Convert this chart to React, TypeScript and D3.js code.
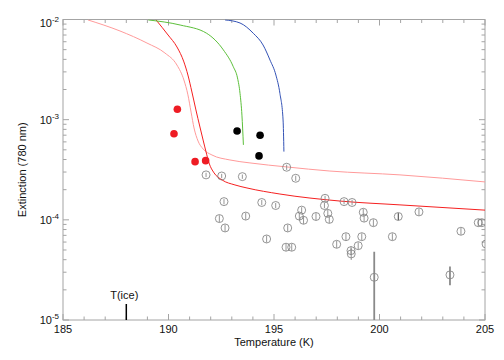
import React from "react";
import * as d3 from "d3";

// ---- data ----
const xTickValues = [185, 190, 195, 200, 205];
const yTickExponents = [-2, -3, -4, -5];

// model curves (temperature K, extinction)
const pinkT = [186.18, 187.7, 188.98, 189.83, 190.4, 190.73, 190.92, 191.07, 191.21, 191.4, 191.64, 192.06, 192.91, 193.86, 195.62, 197.65, 200.97, 205];
const pinkE = [9.9e-3, 7.68e-3, 5.82e-3, 4.63e-3, 3.51e-3, 2.49e-3, 1.77e-3, 1.19e-3, 8.26e-4, 6.12e-4, 5.1e-4, 4.44e-4, 3.96e-4, 3.7e-4, 3.37e-4, 3.07e-4, 2.81e-4, 2.39e-4];

const redT = [189.41, 189.98, 190.4, 190.73, 190.92, 191.11, 191.3, 191.49, 191.64, 191.78, 191.92, 192.16, 192.54, 193.15, 193.72, 195.28, 198.13, 200.97, 205];
const redE = [9.9e-3, 7.0e-3, 5.32e-3, 3.77e-3, 2.79e-3, 1.89e-3, 1.25e-3, 8.45e-4, 6.26e-4, 4.76e-4, 3.7e-4, 2.94e-4, 2.5e-4, 2.23e-4, 2.08e-4, 1.81e-4, 1.54e-4, 1.41e-4, 1.25e-4];

const greenT = [189.04, 190.55, 191.81, 192.6, 193.07, 193.27, 193.39, 193.48, 193.55];
const greenE = [9.9e-3, 8.81e-3, 7.28e-3, 4.97e-3, 3.38e-3, 2.61e-3, 1.83e-3, 1.11e-3, 5.6e-4];

const blueT = [192.68, 193.39, 194.02, 194.48, 194.81, 195.09, 195.28, 195.43, 195.47];
const blueE = [9.9e-3, 9.23e-3, 7.28e-3, 5.57e-3, 3.94e-3, 2.79e-3, 1.83e-3, 9.93e-4, 4.8e-4];

// filled points
const redDotT = [190.42, 190.26, 191.26, 191.76];
const redDotE = [1.27e-3, 7.24e-4, 3.81e-4, 3.9e-4];
const blackDotT = [193.25, 194.34, 194.29];
const blackDotE = [7.71e-4, 6.98e-4, 4.35e-4];

// open circles with error bars
const openT = [191.78, 192.52, 193.5, 195.6, 196.03, 192.63, 194.42, 195.08, 192.41, 193.66, 192.68, 195.65, 194.65, 195.57, 195.84, 196.31, 196.2, 196.4, 196.99, 197.42, 197.39, 197.55, 197.62, 198.32, 198.7, 199.23, 199.27, 199.71, 197.97, 198.41, 199.16, 198.99, 198.65, 198.66, 200.89, 201.87, 200.61, 203.86, 204.68, 204.85, 205.05, 199.75, 203.34];
const openE = [2.81e-4, 2.74e-4, 2.7e-4, 3.35e-4, 2.6e-4, 1.52e-4, 1.49e-4, 1.39e-4, 1.03e-4, 1.09e-4, 8.3e-5, 8.3e-5, 6.44e-5, 5.33e-5, 5.33e-5, 1.25e-4, 1.09e-4, 9.9e-5, 1.08e-4, 1.64e-4, 1.39e-4, 1.16e-4, 1.01e-4, 1.52e-4, 1.49e-4, 1.19e-4, 1.04e-4, 9.37e-5, 5.7e-5, 6.79e-5, 6.79e-5, 5.52e-5, 4.93e-5, 4.57e-5, 1.08e-4, 1.2e-4, 6.79e-5, 7.69e-5, 9.37e-5, 9.37e-5, 5.74e-5, 2.67e-5, 2.82e-5];
const openErrUp = [0.05, 0.05, 0.05, 0.06, 0.06, 0.06, 0.06, 0.06, 0.08, 0.08, 0.08, 0.08, 0.08, 0.08, 0.08, 0.07, 0.08, 0.08, 0.08, 0.06, 0.06, 0.08, 0.08, 0.06, 0.06, 0.08, 0.08, 0.08, 0.08, 0.08, 0.08, 0.08, 0.1, 0.14, 0.08, 0.08, 0.08, 0.08, 0.08, 0.08, 0.08, 0.8, 0.21];
const openErrDown = [0.05, 0.05, 0.05, 0.06, 0.06, 0.06, 0.06, 0.06, 0.08, 0.08, 0.08, 0.08, 0.08, 0.08, 0.08, 0.07, 0.08, 0.08, 0.08, 0.06, 0.06, 0.08, 0.08, 0.06, 0.06, 0.08, 0.08, 0.08, 0.08, 0.08, 0.08, 0.08, 0.1, 0.13, 0.08, 0.08, 0.08, 0.08, 0.08, 0.08, 0.08, 0.7, 0.21];
const openBarDark = [34];

const iceT = 188;

// ---- layout ----
const W = 504, H = 360;
const L = 63, R = 485, T = 19.5, B = 320;
const FONT = "'Liberation Sans', Arial, Helvetica, sans-serif";
const AXIS = "#a4a4a4";

export default function App() {
  const x = d3.scaleLinear().domain([185, 205]).range([L, R]);
  const y = d3.scaleLog().domain([1e-5, 1e-2]).range([B, T]);

  const line = (ts: number[], es: number[]) =>
    d3.line<number>().x((_, i) => x(ts[i])).y((_, i) => y(es[i])).curve(d3.curveMonotoneX)(ts.map((_, i) => i)) || "";

  const minorX = d3.range(185, 205.01, 1);
  const minorY: number[] = [];
  for (let e = -5; e < -2; e++) for (let m = 1; m <= 9; m++) minorY.push(m * Math.pow(10, e));
  minorY.push(1e-2);

  return (
    <svg width={W} height={H} style={{ position: "absolute", left: 0, top: 0, background: "#fff" }} fontFamily={FONT}>
      <defs>
        <clipPath id="plot"><rect x={L} y={T} width={R - L} height={B - T} /></clipPath>
      </defs>
      <rect x={0} y={0} width={W} height={H} fill="#fff" />

      {/* ticks */}
      <g stroke={AXIS} strokeWidth={1}>
        {minorX.map((v) => {
          const major = v % 5 === 0;
          const len = major ? 6 : 3.5;
          return (
            <g key={"xt" + v}>
              <line x1={x(v)} x2={x(v)} y1={B} y2={B - len} />
              <line x1={x(v)} x2={x(v)} y1={T} y2={T + len} />
            </g>
          );
        })}
        {minorY.map((v, i) => {
          const major = Math.abs(Math.log10(v) - Math.round(Math.log10(v))) < 1e-9;
          const len = major ? 6 : 3.5;
          return (
            <g key={"yt" + i}>
              <line x1={L} x2={L + len} y1={y(v)} y2={y(v)} />
              <line x1={R} x2={R - len} y1={y(v)} y2={y(v)} />
            </g>
          );
        })}
      </g>

      {/* frame */}
      <rect x={L} y={T} width={R - L} height={B - T} fill="none" stroke={AXIS} strokeWidth={1} />

      {/* tick labels */}
      <g fontSize={11} fill="#111">
        {xTickValues.map((v) => (
          <text key={"xl" + v} x={x(v)} y={333} textAnchor="middle">{v}</text>
        ))}
        {yTickExponents.map((e) => (
          <text key={"yl" + e} x={59} y={y(Math.pow(10, e)) + (e === -2 ? 7 : 4)} textAnchor="end">
            10<tspan dy={-5} fontSize={8}>{e}</tspan>
          </text>
        ))}
      </g>

      {/* axis titles */}
      <text x={274} y={346} textAnchor="middle" fontSize={11} fill="#111">Temperature (K)</text>
      <text transform={`translate(26,${(T + B) / 2 + 0}) rotate(-90)`} textAnchor="middle" fontSize={11} fill="#111">
        Extinction (780 nm)
      </text>

      {/* T(ice) marker */}
      <text x={x(iceT) - 2} y={299} textAnchor="middle" fontSize={11} fill="#111">T(ice)</text>
      <line x1={x(iceT)} x2={x(iceT)} y1={304} y2={B} stroke="#000" strokeWidth={1.5} />

      <g clipPath="url(#plot)">
        {/* curves */}
        <path d={line(pinkT, pinkE)} fill="none" stroke="#ff9a9a" strokeWidth={1} />
        <path d={line(redT, redE)} fill="none" stroke="#f52020" strokeWidth={1} />
        <path d={line(greenT, greenE)} fill="none" stroke="#5cbf3a" strokeWidth={1} />
        <path d={line(blueT, blueE)} fill="none" stroke="#3352b5" strokeWidth={1} />

        {/* open circles with error bars */}
        {openT.map((t, i) => {
          const cx = x(t), cy = y(openE[i]);
          const big = openErrUp[i] > 0.15;
          const dark = openBarDark.includes(i);
          return (
            <g key={"o" + i}>
              <circle cx={cx} cy={cy} r={4} fill="none" stroke="#7a7a7a" strokeWidth={0.8} />
              <line
                x1={cx} x2={cx}
                y1={y(openE[i] * (1 + openErrUp[i]))}
                y2={y(openE[i] * (1 - openErrDown[i]))}
                stroke={dark ? "#222" : "#8a8a8a"}
                strokeWidth={big ? 1.8 : 0.9}
              />
            </g>
          );
        })}

        {/* filled points */}
        {redDotT.map((t, i) => (
          <circle key={"r" + i} cx={x(t)} cy={y(redDotE[i])} r={3.8} fill="#ee1c24" />
        ))}
        {blackDotT.map((t, i) => (
          <circle key={"b" + i} cx={x(t)} cy={y(blackDotE[i])} r={3.8} fill="#000" />
        ))}
      </g>
    </svg>
  );
}
